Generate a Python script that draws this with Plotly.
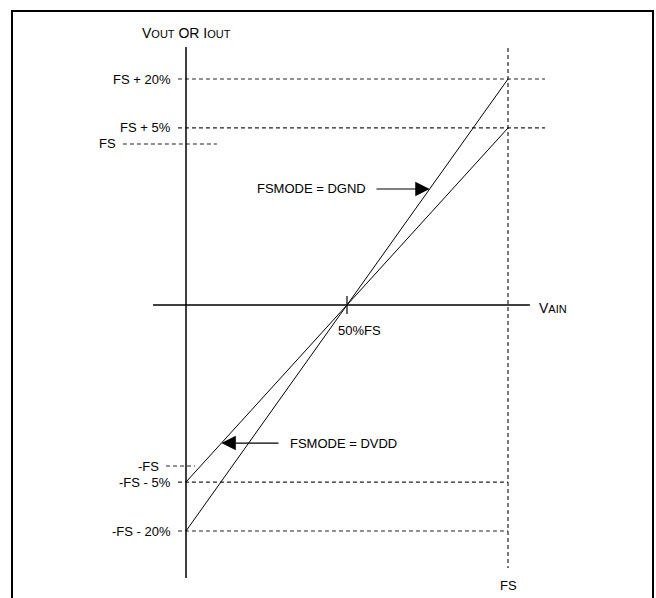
import plotly.graph_objects as go

# schematic levels (arbitrary units, 0 = mid-scale)
level_labels = ["FS + 20%", "FS + 5%", "FS", "-FS", "-FS - 5%", "-FS - 20%"]
level_values = [1.2, 0.94, 0.855, -0.855, -0.94, -1.2]
level_x_start = [-0.025, -0.025, -0.196, -0.062, -0.025, -0.025]
level_x_end = [1.115, 1.115, 0.096, 0.028, 1.0, 1.0]

# transfer lines, x in fraction of FS
vain = [0, 1]
dgnd_out = [-1.2, 1.2]
dvdd_out = [-0.94, 0.94]

FONT = "Liberation Sans, Arial, sans-serif"
DASH = "4px,3px"
DASH_COLOR = "#222"
SUB = "<span style='font-size:11px'>{}</span>"

fig = go.Figure()

# dashed reference levels
for lab, yv, x0, x1 in zip(level_labels, level_values, level_x_start, level_x_end):
    fig.add_trace(go.Scatter(x=[x0, x1], y=[yv, yv], mode="lines",
                             line=dict(color=DASH_COLOR, width=1.2, dash=DASH), hoverinfo="skip"))
    fig.add_annotation(x=x0, y=yv, text=lab, showarrow=False, xanchor="right",
                       yanchor="middle", xshift=-5, font=dict(size=13, color="black"))

# vertical dashed at FS
fig.add_trace(go.Scatter(x=[1, 1], y=[1.365, -1.397], mode="lines",
                         line=dict(color=DASH_COLOR, width=1.2, dash=DASH), hoverinfo="skip"))

# axes
fig.add_trace(go.Scatter(x=[0, 0], y=[1.37, -1.45], mode="lines",
                         line=dict(color="black", width=1.5), hoverinfo="skip"))
fig.add_trace(go.Scatter(x=[-0.1025, 1.068], y=[0, 0], mode="lines",
                         line=dict(color="black", width=1.5), hoverinfo="skip"))
fig.add_trace(go.Scatter(x=[0.5, 0.5], y=[0.048, -0.048], mode="lines",
                         line=dict(color="black", width=1.2), hoverinfo="skip"))

# transfer functions
fig.add_trace(go.Scatter(x=vain, y=dgnd_out, mode="lines",
                         line=dict(color="black", width=1), hoverinfo="skip"))
fig.add_trace(go.Scatter(x=vain, y=dvdd_out, mode="lines",
                         line=dict(color="black", width=1), hoverinfo="skip"))

# text labels
fig.add_annotation(x=0, y=1.444, text="V" + SUB.format("OUT") + " OR I" + SUB.format("OUT"),
                   showarrow=False, xanchor="center", yanchor="middle", font=dict(size=14))
fig.add_annotation(x=1.09, y=-0.015, text="V" + SUB.format("AIN"),
                   showarrow=False, xanchor="left", yanchor="middle", font=dict(size=14))
fig.add_annotation(x=0.54, y=-0.133, text="50%FS", showarrow=False,
                   xanchor="center", yanchor="middle", font=dict(size=13))
fig.add_annotation(x=1, y=-1.487, text="FS", showarrow=False,
                   xanchor="center", yanchor="middle", font=dict(size=13))

# FSMODE callouts
fig.add_annotation(x=0.565, y=0.616, text="FSMODE = DGND", showarrow=False,
                   xanchor="right", yanchor="middle", font=dict(size=13))
fig.add_annotation(x=0.7567, y=0.616, ax=0.587, ay=0.616, axref="x", ayref="y",
                   text="", showarrow=True, arrowhead=2, arrowsize=2.4, arrowwidth=1.2,
                   arrowcolor="black")
fig.add_annotation(x=0.317, y=-0.733, text="FSMODE = DVDD", showarrow=False,
                   xanchor="left", yanchor="middle", font=dict(size=13))
fig.add_annotation(x=0.11, y=-0.733, ax=0.292, ay=-0.733, axref="x", ayref="y",
                   text="", showarrow=True, arrowhead=2, arrowsize=2.4, arrowwidth=1.2,
                   arrowcolor="black")

# outer frame
fig.add_shape(type="rect", xref="paper", yref="paper",
              x0=12 / 656, x1=653 / 656, y0=-0.02, y1=1 - 11 / 598,
              line=dict(color="black", width=2))

fig.update_layout(
    width=656, height=598,
    margin=dict(l=0, r=0, t=0, b=0),
    showlegend=False,
    plot_bgcolor="white", paper_bgcolor="white",
    font=dict(family=FONT, color="black"),
    xaxis=dict(range=[-186 / 322, 470 / 322], visible=False, fixedrange=True),
    yaxis=dict(range=[-293 / 188.33, 305 / 188.33], visible=False, fixedrange=True),
)

fig.write_html("out.html", config={"displayModeBar": False},
               post_script="document.body.style.margin='0px';document.body.style.overflow='hidden';")
